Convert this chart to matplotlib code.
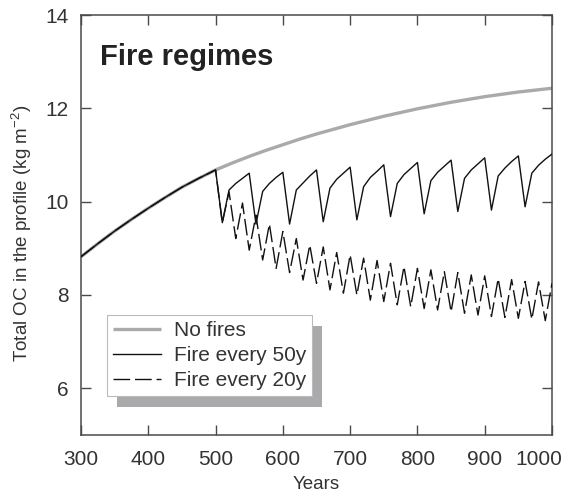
import numpy as np
import matplotlib.pyplot as plt
import matplotlib.transforms as mtransforms
from matplotlib.patches import Rectangle

plt.rcParams['font.family'] = ['Liberation Sans', 'DejaVu Sans']
plt.rcParams['mathtext.default'] = 'regular'

# no fires: smooth accumulation curve
years_nf = np.arange(300, 1001, 25)
no_fires = [8.82, 9.10, 9.37, 9.62, 9.86, 10.09, 10.31, 10.50, 10.68,
            10.83, 10.97, 11.10, 11.22, 11.34, 11.45, 11.55, 11.65,
            11.74, 11.83, 11.91, 11.99, 12.06, 12.13, 12.19, 12.25,
            12.30, 12.35, 12.39, 12.43]

# fire runs follow the same curve until year 500
years_pre = [300, 325, 350, 375, 400, 425, 450, 475]
pre_fire = [8.82, 9.10, 9.37, 9.62, 9.86, 10.09, 10.31, 10.50]
years_fire = np.arange(500, 1001, 10)

fire50 = [10.68, 9.55, 10.25, 10.39, 10.50, 10.61,
          9.52, 10.22, 10.39, 10.52, 10.63,
          9.52, 10.25, 10.40, 10.55, 10.68,
          9.57, 10.29, 10.48, 10.61, 10.74,
          9.61, 10.32, 10.52, 10.65, 10.79,
          9.68, 10.39, 10.58, 10.71, 10.84,
          9.74, 10.45, 10.63, 10.76, 10.89,
          9.79, 10.50, 10.68, 10.81, 10.94,
          9.82, 10.55, 10.72, 10.86, 10.98,
          9.89, 10.61, 10.78, 10.91, 11.02]

fire20 = [10.68, 9.55, 10.21, 9.21, 9.97, 8.96, 9.71, 8.75, 9.52, 8.57,
          9.36, 8.48, 9.21, 8.32, 9.07, 8.25, 9.03, 8.11, 8.91, 8.04,
          8.86, 8.00, 8.79, 7.89, 8.74, 7.86, 8.68, 7.79, 8.61, 7.75,
          8.57, 7.71, 8.54, 7.68, 8.50, 7.64, 8.48, 7.61, 8.43, 7.57,
          8.41, 7.54, 8.35, 7.52, 8.33, 7.50, 8.29, 7.48, 8.28, 7.45,
          8.25]

x50 = list(years_pre) + list(years_fire)
y50 = pre_fire + fire50
x20 = list(years_pre) + list(years_fire)
y20 = pre_fire + fire20

txt = '#333333'
spine = '#4a4a4a'

fig = plt.figure(figsize=(5.62, 4.95), dpi=100)
ax = fig.add_axes([81 / 562, 1 - 435 / 495, 471 / 562, 420 / 495])

ax.plot(years_nf, no_fires, color='#aaaaaa', lw=2.4, label='No fires',
        solid_capstyle='butt', zorder=2)
ax.plot(x20, y20, color='#111111', lw=1.0, dashes=(12, 3.5),
        label='Fire every 20y', zorder=3)
ax.plot(x50, y50, color='#111111', lw=1.0, label='Fire every 50y', zorder=4)

ax.set_xlim(300, 1000)
ax.set_ylim(5, 14)
ax.set_xticks(np.arange(300, 1001, 100))
ax.set_yticks([6, 8, 10, 12, 14])

for s in ax.spines.values():
    s.set_color(spine)
    s.set_linewidth(1.1)
ax.tick_params(direction='in', length=7, width=1, color=spine,
               labelsize=15, labelcolor=txt, top=True, right=True)
ax.tick_params(axis='x', pad=11)
ax.tick_params(axis='y', pad=9)

ax.set_xlabel('Years', fontsize=13.5, color=txt, labelpad=5)
ax.set_ylabel('Total OC in the profile (kg m$^{-2}$)', fontsize=13.5,
              color=txt, labelpad=8)
ax.yaxis.label.set_y(0.479)

ax.text(0.04, 0.88, 'Fire regimes', transform=ax.transAxes,
        fontsize=21, fontweight='bold', color='#222222')

# "1000" sits shifted left in the original
lab = ax.get_xticklabels()[-1]
lab.set_transform(lab.get_transform() +
                  mtransforms.ScaledTranslation(-0.13, 0, fig.dpi_scale_trans))

h, l = ax.get_legend_handles_labels()
order = [0, 2, 1]
leg = ax.legend([h[i] for i in order], [l[i] for i in order],
                loc='upper left', bbox_to_anchor=(0.055, 0.286),
                borderaxespad=0, fontsize=15, frameon=True, fancybox=False,
                framealpha=1, edgecolor='#bbbbbb', handlelength=2.3,
                handletextpad=0.6, labelspacing=0.28, borderpad=0.3)
leg.get_frame().set_linewidth(0.8)
for t in leg.get_texts():
    t.set_color(txt)

fig.canvas.draw()
bb = leg.get_window_extent()
shadow = Rectangle((bb.x0 + 10, bb.y0 - 11), bb.width, bb.height,
                   transform=mtransforms.IdentityTransform(),
                   facecolor='#aaaaac', edgecolor='none', zorder=4.5)
ax.add_artist(shadow)

fig.savefig('out.png', dpi=100)
